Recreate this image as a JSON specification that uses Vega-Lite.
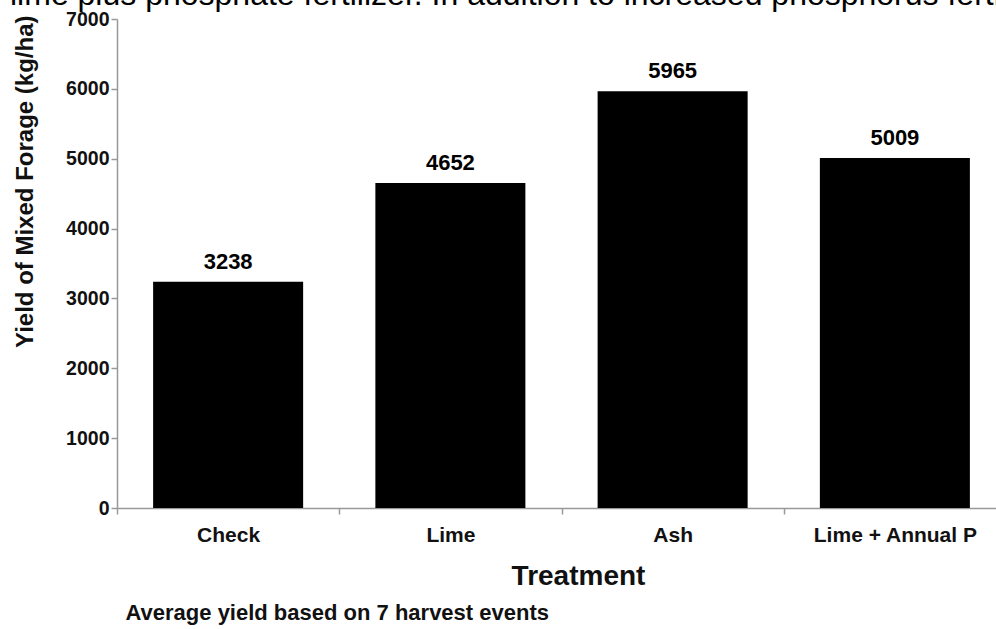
{
  "$schema": "https://vega.github.io/schema/vega-lite/v6.json",
  "width": 889,
  "height": 489,
  "autosize": {"type": "none"},
  "padding": {"left": 117, "top": 19, "right": 0, "bottom": 121},
  "background": "white",
  "title": {
    "text": "lime plus phosphate fertilizer. In addition to increased phosphorus fertility",
    "anchor": "start",
    "frame": "group",
    "dx": -107,
    "fontSize": 32,
    "fontWeight": "normal",
    "font": "Liberation Sans",
    "color": "#000000",
    "baseline": "alphabetic",
    "offset": -28
  },
  "data": {
    "values": [
      {"Treatment": "Check", "Yield": 3238},
      {"Treatment": "Lime", "Yield": 4652},
      {"Treatment": "Ash", "Yield": 5965},
      {"Treatment": "Lime + Annual P", "Yield": 5009}
    ]
  },
  "encoding": {
    "x": {
      "field": "Treatment",
      "type": "nominal",
      "sort": null,
      "scale": {"paddingInner": 0, "paddingOuter": 0},
      "axis": {
        "orient": "bottom",
        "title": "Treatment",
        "titleFont": "Liberation Sans",
        "titleFontSize": 28,
        "titleFontWeight": "bold",
        "titleColor": "#111111",
        "titlePadding": 17,
        "titleX": 461,
        "labelFont": "Liberation Sans",
        "labelFontSize": 21,
        "labelFontWeight": "bold",
        "labelColor": "#111111",
        "labelAngle": 0,
        "labelPadding": 10,
        "labelOverlap": false,
        "labelLimit": 400,
        "tickBand": "extent",
        "tickSize": 6,
        "tickColor": "#999999",
        "tickWidth": 1.5,
        "domainColor": "#999999",
        "domainWidth": 1.5,
        "grid": false
      }
    },
    "y": {
      "field": "Yield",
      "type": "quantitative",
      "scale": {"domain": [0, 7000], "nice": false},
      "axis": {
        "values": [0, 1000, 2000, 3000, 4000, 5000, 6000, 7000],
        "format": "d",
        "title": "Yield of Mixed Forage (kg/ha)",
        "titleFont": "Liberation Sans",
        "titleFontSize": 24,
        "titleFontWeight": "bold",
        "titleColor": "#111111",
        "titleAngle": -90,
        "titleAnchor": "end",
        "titleAlign": "right",
        "titleBaseline": "bottom",
        "titleX": -80,
        "titleY": -4,
        "labelFont": "Liberation Sans",
        "labelFontSize": 19.5,
        "labelFontWeight": "bold",
        "labelColor": "#111111",
        "labelPadding": 2,
        "tickSize": 6,
        "tickColor": "#999999",
        "tickWidth": 1.5,
        "domainColor": "#999999",
        "domainWidth": 1.5,
        "grid": false
      }
    }
  },
  "layer": [
    {
      "mark": {"type": "bar", "color": "#000000", "width": {"band": 0.675}}
    },
    {
      "mark": {
        "type": "text",
        "dy": -13,
        "baseline": "alphabetic",
        "font": "Liberation Sans",
        "fontSize": 22,
        "fontWeight": "bold",
        "color": "#000000"
      },
      "encoding": {
        "text": {"field": "Yield", "type": "quantitative", "format": "d"},
        "x": {
          "field": "Treatment",
          "type": "nominal",
          "sort": null,
          "axis": {
            "orient": "bottom",
            "title": "Average yield based on 7 harvest events",
            "titleFont": "Liberation Sans",
            "titleFontSize": 22,
            "titleFontWeight": "bold",
            "titleColor": "#111111",
            "titleAnchor": "start",
            "titleAlign": "left",
            "titleX": 8,
            "titlePadding": 94,
            "labels": false,
            "ticks": false,
            "domain": false,
            "grid": false
          }
        }
      }
    }
  ],
  "resolve": {"axis": {"x": "independent"}},
  "config": {"view": {"stroke": null}}
}
